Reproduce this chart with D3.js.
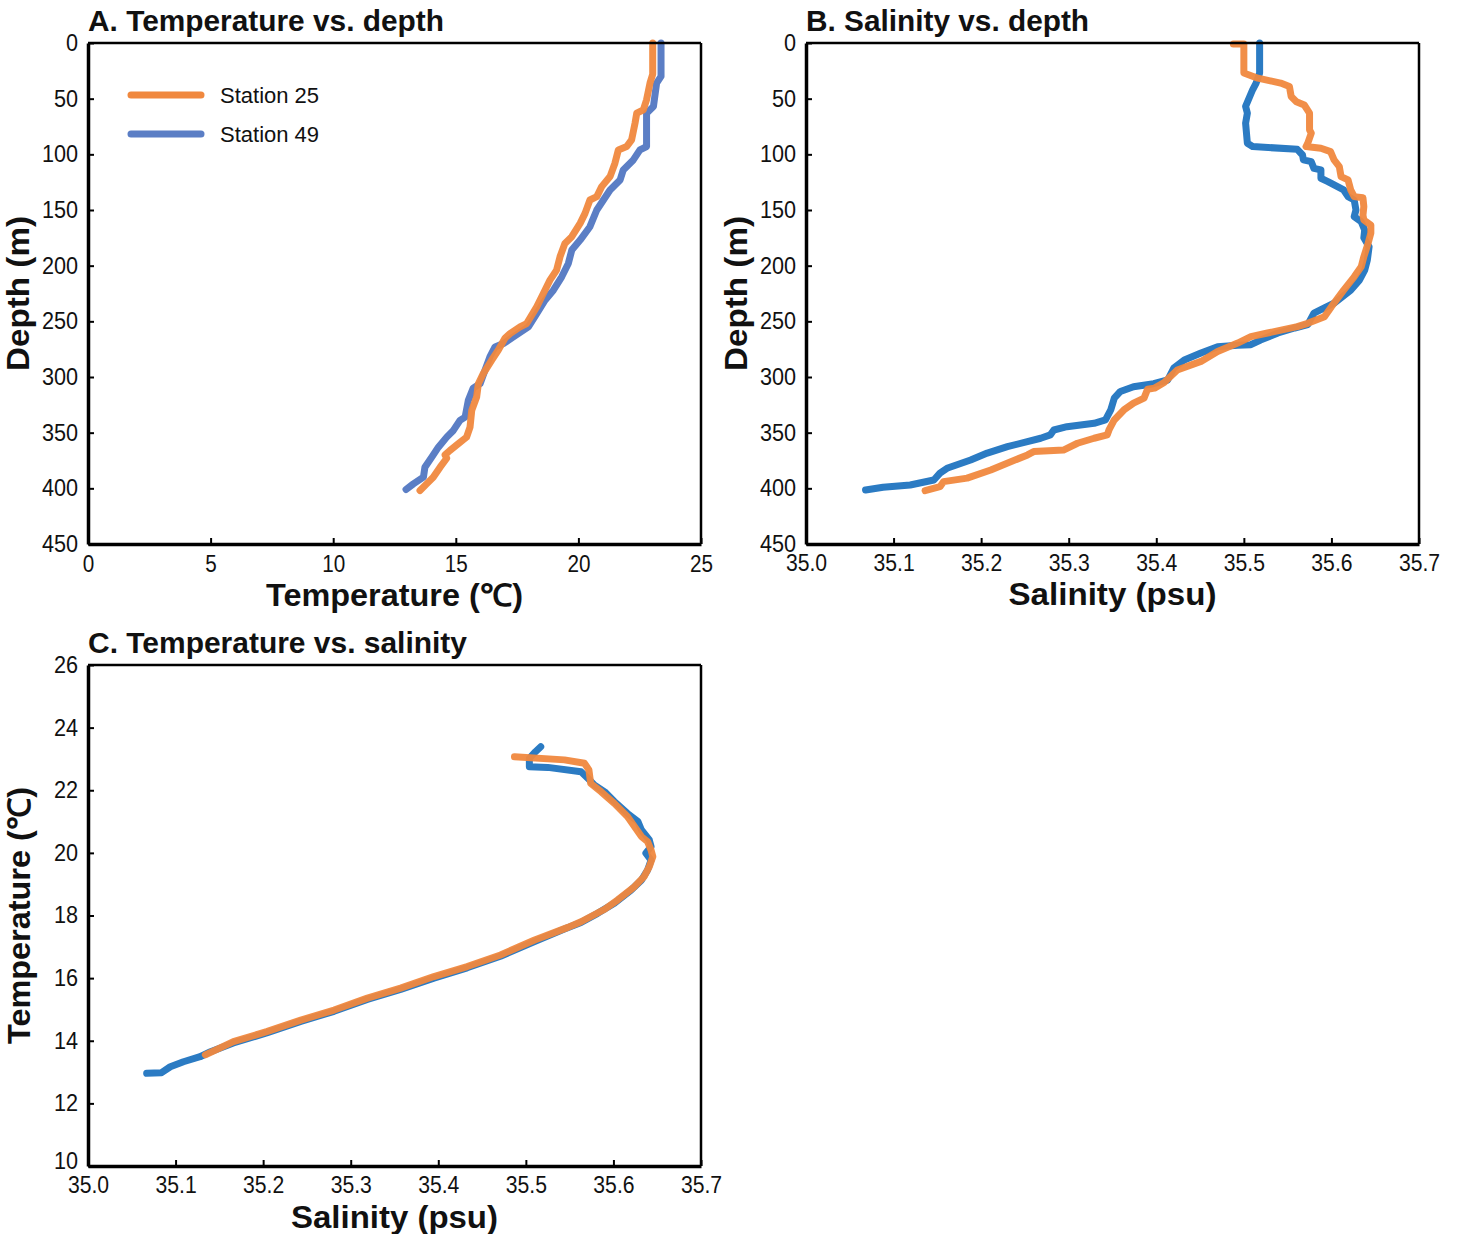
<!DOCTYPE html>
<html>
<head>
<meta charset="utf-8">
<script src="https://cdn.jsdelivr.net/npm/d3@7"></script>
<style>
  html, body { margin: 0; padding: 0; background: #fff; }
  svg { display: block; }
  .tick text { font-family: "Liberation Sans", Arial, sans-serif; font-size: 23px; fill: #111; }
  .ptitle { font-family: "Liberation Sans", Arial, sans-serif; font-weight: bold; font-size: 29px; fill: #111; }
  .atitle { font-family: "Liberation Sans", Arial, sans-serif; font-weight: bold; font-size: 31px; fill: #111; }
  .legtext { font-family: "Liberation Sans", Arial, sans-serif; font-size: 22px; fill: #111; }
</style>
</head>
<body>
<svg id="chart" width="1458" height="1234"></svg>
<script>
// ---------------- DATA ----------------
const seriesNames = ["Station 25", "Station 49"];

// Panel A: temperature (°C) vs depth (m)
const aSt25Depth = [0, 28, 36, 51, 60, 63, 72, 87, 93, 96, 108, 120, 129, 138, 141, 153, 162, 174, 180, 192, 204, 213, 225, 237, 252, 255, 261, 265, 276, 285, 297, 306, 318, 330, 345, 354, 360, 366, 370, 373, 381, 390, 396, 402];
const aSt25Temp  = [23.03, 23.03, 22.92, 22.78, 22.65, 22.38, 22.31, 22.17, 21.97, 21.63, 21.49, 21.29, 20.95, 20.75, 20.47, 20.27, 20.07, 19.73, 19.45, 19.25, 19.11, 18.84, 18.57, 18.30, 17.89, 17.62, 17.21, 17.01, 16.73, 16.46, 16.12, 15.92, 15.85, 15.65, 15.58, 15.44, 15.10, 14.76, 14.56, 14.63, 14.36, 14.08, 13.81, 13.54];
const aSt49Depth = [0, 30, 36, 57, 63, 93, 96, 105, 114, 123, 132, 141, 150, 165, 177, 186, 198, 210, 222, 231, 243, 255, 264, 270, 273, 282, 294, 306, 310, 321, 336, 339, 348, 354, 363, 372, 381, 390, 396, 401];
const aSt49Temp  = [23.37, 23.37, 23.19, 23.06, 22.78, 22.78, 22.51, 22.24, 21.83, 21.70, 21.29, 21.02, 20.75, 20.47, 20.07, 19.73, 19.59, 19.32, 18.98, 18.64, 18.30, 17.96, 17.35, 16.94, 16.60, 16.39, 16.19, 15.99, 15.71, 15.51, 15.38, 15.17, 14.90, 14.63, 14.29, 14.02, 13.74, 13.68, 13.27, 12.97];

// Panel B: salinity (psu) vs depth (m)
const bSt25Sal   = [35.488, 35.500, 35.500, 35.516, 35.542, 35.552, 35.554, 35.560, 35.569, 35.575, 35.575, 35.577, 35.573, 35.571, 35.588, 35.599, 35.603, 35.609, 35.611, 35.619, 35.622, 35.626, 35.636, 35.637, 35.636, 35.637, 35.645, 35.645, 35.642, 35.637, 35.634, 35.626, 35.614, 35.600, 35.592, 35.573, 35.561, 35.527, 35.508, 35.493, 35.470, 35.451, 35.424, 35.409, 35.398, 35.390, 35.386, 35.374, 35.363, 35.352, 35.346, 35.344, 35.329, 35.310, 35.294, 35.260, 35.253, 35.211, 35.184, 35.157, 35.153, 35.136];
const bSt25Depth = [1, 1, 27, 31.6, 36, 39, 48, 52.7, 55.7, 63, 78, 81, 90, 93, 94.5, 97.6, 105, 111, 120, 123, 132, 138, 139, 147, 154.5, 159, 163.5, 170.7, 179.6, 192, 201, 210, 222, 236.8, 245.8, 251.8, 254.8, 260.5, 263.8, 269.5, 277, 286, 293.7, 305, 310, 311, 319, 323.4, 329.6, 338.6, 347.6, 352, 355, 359.5, 365.6, 367, 370, 383.5, 390.8, 394, 398.5, 402];
const bSt49Sal   = [35.518, 35.518, 35.514, 35.510, 35.502, 35.504, 35.502, 35.503, 35.504, 35.510, 35.561, 35.567, 35.568, 35.577, 35.580, 35.588, 35.588, 35.596, 35.614, 35.619, 35.626, 35.628, 35.626, 35.634, 35.638, 35.637, 35.643, 35.641, 35.638, 35.632, 35.622, 35.603, 35.592, 35.580, 35.573, 35.558, 35.539, 35.519, 35.508, 35.493, 35.470, 35.451, 35.432, 35.420, 35.413, 35.397, 35.374, 35.359, 35.352, 35.348, 35.342, 35.329, 35.298, 35.283, 35.279, 35.268, 35.230, 35.207, 35.188, 35.161, 35.153, 35.146, 35.119, 35.088, 35.068];
const bSt49Depth = [0, 27, 36, 42, 57, 63, 72, 81, 90, 93, 95.5, 100.6, 105, 106.6, 112.6, 114, 121.5, 124.5, 132, 138, 141, 150, 156, 160.5, 168, 175, 183, 195, 204, 213, 222, 233.7, 238, 242.6, 253, 256, 260.5, 266.8, 271, 271.5, 272.8, 278.5, 284.7, 292, 302.7, 306, 308.7, 313, 319, 329.6, 338.6, 341.6, 344.6, 347.6, 352, 355, 362.6, 368.3, 374.6, 382, 386.3, 392.5, 397, 399, 401.5];

// Panel C: temperature (°C) vs salinity (psu)
const cSt25Sal  = [35.487, 35.544, 35.567, 35.572, 35.574, 35.586, 35.601, 35.616, 35.624, 35.632, 35.639, 35.643, 35.645, 35.641, 35.635, 35.624, 35.605, 35.590, 35.563, 35.548, 35.510, 35.471, 35.433, 35.395, 35.357, 35.319, 35.281, 35.243, 35.204, 35.166, 35.134];
const cSt25Temp = [23.07, 22.97, 22.86, 22.65, 22.22, 21.95, 21.58, 21.16, 20.84, 20.52, 20.36, 20.09, 19.88, 19.56, 19.24, 18.92, 18.50, 18.20, 17.80, 17.62, 17.22, 16.74, 16.37, 16.05, 15.68, 15.36, 14.98, 14.66, 14.29, 13.97, 13.55];
const cSt49Sal  = [35.517, 35.511, 35.504, 35.504, 35.525, 35.563, 35.571, 35.578, 35.590, 35.601, 35.616, 35.628, 35.632, 35.641, 35.643, 35.637, 35.643, 35.639, 35.632, 35.620, 35.601, 35.582, 35.563, 35.544, 35.510, 35.471, 35.433, 35.395, 35.357, 35.319, 35.281, 35.243, 35.204, 35.166, 35.140, 35.128, 35.109, 35.094, 35.084, 35.067];
const cSt49Temp = [23.39, 23.23, 23.02, 22.75, 22.73, 22.59, 22.38, 22.17, 21.95, 21.64, 21.26, 21.00, 20.73, 20.41, 20.20, 19.99, 19.77, 19.45, 19.13, 18.81, 18.39, 18.07, 17.78, 17.57, 17.17, 16.70, 16.33, 16.00, 15.64, 15.32, 14.94, 14.62, 14.25, 13.93, 13.65, 13.49, 13.33, 13.17, 12.98, 12.96];

// Axis ticks
const tempTicksA  = [0, 5, 10, 15, 20, 25];
const depthTicks  = [0, 50, 100, 150, 200, 250, 300, 350, 400, 450];
const salTicks    = [35.0, 35.1, 35.2, 35.3, 35.4, 35.5, 35.6, 35.7];
const tempTicksC  = [10, 12, 14, 16, 18, 20, 22, 24, 26];

// ---------------- DRAW ----------------
const svg = d3.select("#chart");
const W = 613, H = 501;
const orange = "#F0883E";
const blueA = "#5B7EC5";
const blueBC = "#2B7BC3";

// condense text horizontally (the original uses a narrow typeface)
function squeeze(sel, factor) {
  sel.each(function () {
    const len = this.getComputedTextLength();
    d3.select(this).attr("textLength", len * factor).attr("lengthAdjust", "spacingAndGlyphs");
  });
}
function fitWidth(sel, w) {
  sel.attr("textLength", w).attr("lengthAdjust", "spacingAndGlyphs");
}

function panel(opts) {
  const g = svg.append("g").attr("transform", `translate(${opts.left},${opts.top})`);
  const x = d3.scaleLinear().domain(opts.xDomain).range([0, W]);
  const y = d3.scaleLinear().domain(opts.yDomain).range(opts.yInvert ? [0, H] : [H, 0]);

  const line = d3.line().x(d => x(d[0])).y(d => y(d[1]));
  opts.series.forEach(s => {
    g.append("path")
      .datum(s.data)
      .attr("d", line)
      .attr("fill", "none")
      .attr("stroke", s.color)
      .attr("stroke-width", 7)
      .attr("stroke-linejoin", "round")
      .attr("stroke-linecap", "round")
      .attr("opacity", s.opacity || 1);
  });

  // frame (top/right)
  g.append("line").attr("x1", 0).attr("x2", W).attr("y1", 0).attr("y2", 0)
    .attr("stroke", "#000").attr("stroke-width", 2.5);
  g.append("line").attr("x1", W).attr("x2", W).attr("y1", 0).attr("y2", H)
    .attr("stroke", "#000").attr("stroke-width", 2.5);

  // axes
  const xAxis = d3.axisBottom(x).tickValues(opts.xTicks).tickFormat(opts.xFormat)
    .tickSizeInner(-6).tickSizeOuter(0).tickPadding(11);
  const gx = g.append("g").attr("transform", `translate(0,${H})`).call(xAxis);
  gx.select(".domain").attr("stroke", "#000").attr("stroke-width", 3.5);
  gx.selectAll(".tick line").attr("stroke", "#000").attr("stroke-width", 2);
  gx.selectAll(".tick text").style("font-size", opts.xFont + "px").attr("dy", "0.71em");
  squeeze(gx.selectAll(".tick text"), opts.xSqueeze);

  const yAxis = d3.axisLeft(y).tickValues(opts.yTicks).tickFormat(opts.yFormat)
    .tickSizeInner(-6).tickSizeOuter(0).tickPadding(10);
  const gy = g.append("g").call(yAxis);
  gy.select(".domain").attr("stroke", "#000").attr("stroke-width", 3.5);
  gy.selectAll(".tick line").attr("stroke", "#000").attr("stroke-width", 2);
  gy.selectAll(".tick text").attr("dy", d => (opts.lowLabelLift && d === opts.yDomain[0]) ? "0.1em" : "0.32em");
  squeeze(gy.selectAll(".tick text"), 0.94);

  // titles
  fitWidth(g.append("text").attr("class", "ptitle").attr("x", 0).attr("y", -12).text(opts.title), opts.titleW);
  fitWidth(g.append("text").attr("class", "atitle").attr("text-anchor", "middle")
    .attr("x", W / 2).attr("y", H + opts.xTitleDy).text(opts.xTitle), opts.xTitleW);
  fitWidth(g.append("text").attr("class", "atitle").attr("text-anchor", "middle")
    .attr("transform", `translate(${-opts.yTitleDx},${H / 2}) rotate(-90)`).text(opts.yTitle), opts.yTitleW);
  return { g, x, y };
}

const pA = panel({
  left: 88, top: 43,
  xDomain: [0, 25], yDomain: [0, 450], yInvert: true,
  xTicks: tempTicksA, yTicks: depthTicks,
  xFormat: d3.format("d"), yFormat: d3.format("d"),
  xFont: 23.5, xSqueeze: 0.88,
  title: "A. Temperature vs. depth", titleW: 356,
  xTitle: "Temperature (℃)", xTitleW: 257,
  yTitle: "Depth (m)", yTitleW: 155,
  xTitleDy: 62, yTitleDx: 59,
  series: [
    { data: d3.zip(aSt49Temp, aSt49Depth), color: blueA },
    { data: d3.zip(aSt25Temp, aSt25Depth), color: orange, opacity: 0.95 }
  ]
});

// legend in panel A
const leg = pA.g.append("g");
[[seriesNames[0], orange], [seriesNames[1], blueA]].forEach((d, i) => {
  const yy = 52 + i * 39;
  leg.append("line").attr("x1", 43).attr("x2", 113).attr("y1", yy).attr("y2", yy)
    .attr("stroke", d[1]).attr("stroke-width", 7).attr("stroke-linecap", "round");
  leg.append("text").attr("class", "legtext").attr("x", 132).attr("y", yy + 8).text(d[0]);
});

panel({
  left: 806, top: 43,
  xDomain: [35.0, 35.7], yDomain: [0, 450], yInvert: true,
  xTicks: salTicks, yTicks: depthTicks,
  xFormat: d3.format(".1f"), yFormat: d3.format("d"),
  xFont: 23, xSqueeze: 0.92,
  title: "B. Salinity vs. depth", titleW: 283,
  xTitle: "Salinity (psu)", xTitleW: 208,
  yTitle: "Depth (m)", yTitleW: 155,
  xTitleDy: 61, yTitleDx: 59,
  series: [
    { data: d3.zip(bSt49Sal, bSt49Depth), color: blueBC },
    { data: d3.zip(bSt25Sal, bSt25Depth), color: orange, opacity: 0.95 }
  ]
});

panel({
  left: 88, top: 665,
  xDomain: [35.0, 35.7], yDomain: [10, 26], yInvert: false,
  xTicks: salTicks, yTicks: tempTicksC,
  xFormat: d3.format(".1f"), yFormat: d3.format("d"),
  xFont: 23, xSqueeze: 0.92, lowLabelLift: true,
  title: "C. Temperature vs. salinity", titleW: 379,
  xTitle: "Salinity (psu)", xTitleW: 207,
  yTitle: "Temperature (℃)", yTitleW: 257,
  xTitleDy: 62, yTitleDx: 58,
  series: [
    { data: d3.zip(cSt49Sal, cSt49Temp), color: blueBC },
    { data: d3.zip(cSt25Sal, cSt25Temp), color: orange, opacity: 0.95 }
  ]
});
</script>
</body>
</html>
